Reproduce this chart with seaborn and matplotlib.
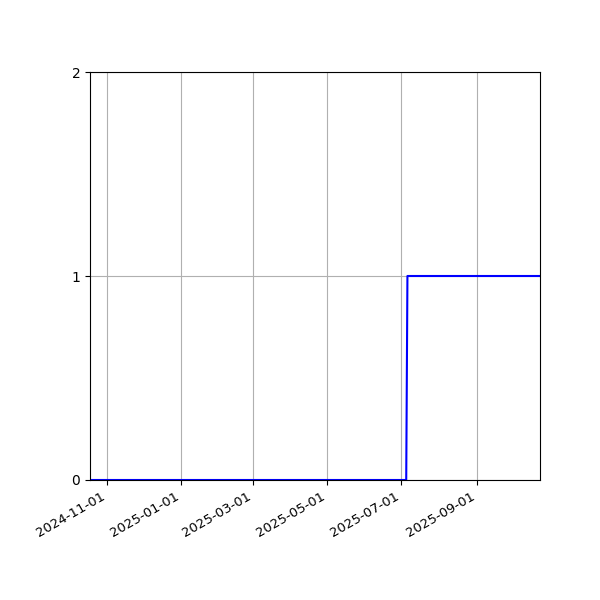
import matplotlib
matplotlib.use("Agg")
import matplotlib.pyplot as plt
import matplotlib.dates as mdates
import pandas as pd
import seaborn as sns

# step series: 0 until early July 2025, then 1
dates = ["2024-10-18", "2025-07-05", "2025-07-06", "2025-10-23"]
values = [0, 0, 1, 1]

df = pd.DataFrame({"date": pd.to_datetime(dates), "value": values})

fig, ax = plt.subplots(figsize=(6, 6), dpi=100)
sns.lineplot(data=df, x="date", y="value", color="blue", linewidth=1.5, ax=ax)

ax.set_xlim(df["date"].min(), df["date"].max())
ax.set_ylim(0, 2)
ax.set_yticks([0, 1, 2])
ax.xaxis.set_major_locator(mdates.MonthLocator(bymonth=[1, 3, 5, 7, 9, 11]))
ax.xaxis.set_major_formatter(mdates.DateFormatter("%Y-%m-%d"))
ax.grid(True)
ax.set_xlabel("")
ax.set_ylabel("")

fig.autofmt_xdate()
ax.tick_params(axis="x", labelsize=9.5)
fig.subplots_adjust(left=0.15, right=0.9, top=0.88, bottom=0.2)
fig.savefig("out.png", dpi=100)
